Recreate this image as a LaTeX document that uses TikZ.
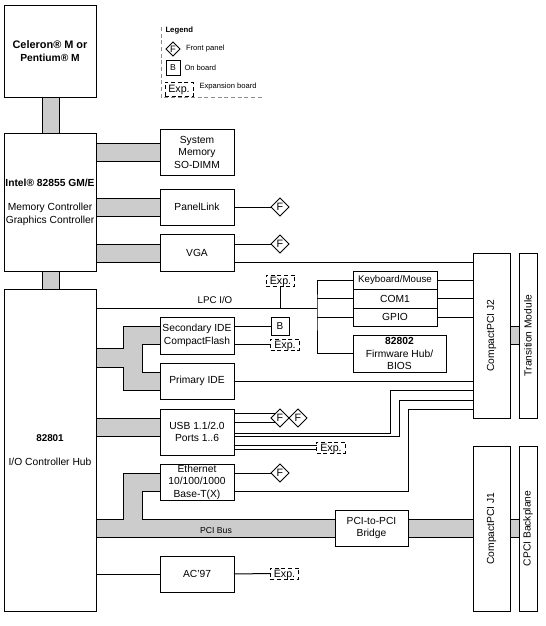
\documentclass[tikz,border=0pt]{standalone}
\usepackage{fontspec}
\setmainfont{Liberation Sans}
\usetikzlibrary{shapes.geometric}
\definecolor{BusGray}{RGB}{204,204,204}
\definecolor{LegendGray}{RGB}{140,140,140}
\tikzset{
  blockbox/.style={draw,fill=white,inner sep=0pt,outer sep=0pt,align=center,
    font=\fontsize{7.7}{9.4}\selectfont},
  frontpanel/.style={draw,fill=white,diamond,aspect=1,inner sep=0pt,outer sep=0pt,
    minimum width=13.5pt,minimum height=13.5pt,font=\fontsize{8}{9}\selectfont},
  onboard/.style={draw,fill=white,inner sep=0pt,outer sep=0pt,
    minimum width=13.5pt,minimum height=13.5pt,font=\fontsize{7.5}{9}\selectfont},
  expbox/.style={draw,densely dashed,fill=white,inner sep=0pt,outer sep=0pt,
    minimum width=21.5pt,minimum height=8.25pt,text height=5.6pt,text depth=0pt,
    font=\fontsize{8}{9}\selectfont},
  busbar/.style={draw,fill=BusGray},
  smalltext/.style={inner sep=0pt,font=\fontsize{5.7}{7}\selectfont},
  legendline/.style={draw=LegendGray,densely dashed}
}
\newcommand{\placebox}[6]{%
  \node[blockbox,minimum width={(#4-#2)*0.75pt},minimum height={(#5-#3)*0.75pt}]
    (#1) at ({(#2+#4)/2},{(#3+#5)/2}) {#6};}
\newcommand{\hbus}[4]{%
  \filldraw[busbar] (#1.east |- 0,#3) rectangle (#2.west |- 0,#4);}

\begin{document}
\begin{tikzpicture}[x=0.75pt,y=-0.75pt,line width=0.75pt]
  \useasboundingbox (0,0) rectangle (546,626);

  \placebox{cpu}{4}{5}{96}{97}{\fontsize{8.2}{9.6}\selectfont\textbf{Celeron® M or}\\\textbf{Pentium® M}}
  \placebox{gmch}{4}{133}{96}{271}{\fontsize{7.4}{9.6}\selectfont{\fontsize{7.7}{9.6}\selectfont\textbf{Intel® 82855 GM/E}}\\[9pt]Memory Controller\\Graphics Controller}
  \placebox{ich}{4}{289}{96}{611}{\fontsize{7.4}{9.6}\selectfont\textbf{82801}\\[9pt]I/O Controller Hub}

  \placebox{memory}{160}{129}{234}{175}{System\\Memory\\SO-DIMM}
  \placebox{panellink}{160}{189}{234}{225}{PanelLink}
  \placebox{vga}{160}{234}{234}{271}{VGA}
  \placebox{secide}{160}{317}{234}{354}{Secondary IDE\\CompactFlash}
  \placebox{primide}{160}{363}{234}{399}{Primary IDE}
  \placebox{usb}{160}{409}{234}{455}{USB 1.1/2.0\\Ports 1..6}
  \placebox{eth}{160}{464}{234}{500}{Ethernet\\10/100/1000\\Base-T(X)}
  \placebox{ac97}{160}{556}{234}{592}{AC'97}
  \placebox{bridge}{335}{510}{408}{546}{PCI-to-PCI\\Bridge}

  \placebox{kbd}{353}{271}{437}{289}{\fontsize{7.3}{9}\selectfont Keyboard/Mouse}
  \placebox{com1}{353}{289}{437}{308}{COM1}
  \placebox{gpio}{353}{308}{437}{326}{GPIO}
  \placebox{bios}{353}{335}{446}{372}{\textbf{82802}\\Firmware Hub/\\BIOS}

  \placebox{jtwo}{473}{253}{510}{418}{\rotatebox{90}{CompactPCI J2}}
  \placebox{transition}{519}{253}{537}{418}{\rotatebox{90}{Transition Module}}
  \placebox{jone}{473}{446}{510}{611}{\rotatebox{90}{CompactPCI J1}}
  \placebox{backplane}{519}{446}{537}{611}{\rotatebox{90}{CPCI Backplane}}

  \node[frontpanel] (panelF) at (280,207) {F};
  \node[frontpanel] (vgaF) at (280,244) {F};
  \node[frontpanel] (usbFb) at (298,418) {F};
  \node[frontpanel] (usbFa) at (280,418) {F};
  \node[frontpanel] (ethF) at (280,473) {F};
  \node[onboard] (secB) at (280,326) {B};
  \node[expbox] (lpcExp) at (280.5,280.5) {Exp.};
  \node[expbox] (secExp) at (285,344.5) {Exp.};
  \node[expbox] (usbExp) at (331,447.5) {Exp.};
  \node[expbox] (acExp) at (284.5,573.5) {Exp.};

  \filldraw[busbar] (cpu.south -| 42,0) rectangle (gmch.north -| 59,0);
  \filldraw[busbar] (gmch.south -| 42,0) rectangle (ich.north -| 59,0);
  \hbus{gmch}{memory}{143}{161}
  \hbus{gmch}{panellink}{198}{216}
  \hbus{gmch}{vga}{244}{262}
  \hbus{ich}{usb}{418}{436}
  \hbus{bridge}{jone}{519}{537}
  \hbus{jone}{backplane}{519}{537}
  \hbus{jtwo}{transition}{326}{344}
  \filldraw[busbar] (96,348) -- (123,348) -- (123,326) -- (160,326) -- (160,344)
    -- (142,344) -- (142,372) -- (160,372) -- (160,390) -- (123,390)
    -- (123,367) -- (96,367) -- cycle;
  \filldraw[busbar] (96,519) -- (123,519) -- (123,473) -- (160,473) -- (160,491)
    -- (142,491) -- (142,519) -- (335,519) -- (335,537) -- (96,537) -- cycle;

  \draw (panellink.east) -- (panelF.west);
  \draw (vga.east |- vgaF.west) -- (vgaF.west);
  \coordinate (vgaJ) at (234,262);
  \draw (vgaJ) -- (vgaJ -| jtwo.west);

  \coordinate (lpcJog) at (317,308);
  \draw (ich.east |- lpcJog) -- (lpcJog);
  \draw (lpcExp.south) -- (lpcExp.south |- lpcJog);
  \draw (kbd.west) -| (lpcJog) |- (bios.west);
  \draw (com1.west) -- (com1.west -| lpcJog);
  \draw (gpio.west) -- (gpio.west -| lpcJog);
  \draw (kbd.east) -- (kbd.east -| jtwo.west);
  \draw (com1.east) -- (com1.east -| jtwo.west);
  \draw (gpio.east) -- (gpio.east -| jtwo.west);

  \draw (secide.east |- secB.west) -- (secB.west);
  \draw (secide.east |- secExp.west) -- (secExp.west);
  \draw (primide.east) -- (primide.east -| jtwo.west);

  \draw (usb.east |- usbFa.north west) -- (usbFa.north west);
  \draw (usb.east |- usbFa.south west) -- (usbFa.south west);
  \coordinate (usbA) at (234,433);
  \coordinate (usbB) at (234,436);
  \coordinate (usbC) at (234,445);
  \coordinate (usbD) at (234,449);
  \coordinate (ethJ) at (234,491);
  \coordinate (jogA) at (390,390);
  \coordinate (jogB) at (399,400);
  \coordinate (jogC) at (408,409);
  \draw (usbA) -| (jogA) -- (jogA -| jtwo.west);
  \draw (usbB) -| (jogB) -- (jogB -| jtwo.west);
  \draw (ethJ) -| (jogC) -- (jogC -| jtwo.west);
  \draw (usbC) -- (usbC -| usbExp.west);
  \draw (usbD) -- (usbD -| usbExp.west);

  \draw (eth.east |- ethF.west) -- (ethF.west);
  \draw (ich.east |- ac97.west) -- (ac97.west);
  \draw (ac97.east) -- (acExp.west);

  \node[inner sep=0pt,font=\fontsize{7.3}{8}\selectfont] (lpcLabel) at (215,300) {LPC I/O};
  \node[inner sep=0pt,font=\fontsize{6.5}{8}\selectfont] (pciLabel) at (216,530.5) {PCI Bus};

  \path[legendline] (161,27) |- (262,97);
  \node[smalltext,anchor=west,font=\fontsize{5.8}{7}\selectfont\bfseries] (legendTitle) at (165,31) {Legend};
  \node[frontpanel,minimum width=10.5pt,minimum height=10.5pt,font=\fontsize{7}{8}\selectfont] (legendF) at (173,49) {F};
  \node[onboard,minimum width=10.5pt,minimum height=11.5pt,font=\fontsize{6.5}{8}\selectfont] (legendB) at (173,68) {B};
  \node[expbox,minimum width=21pt,minimum height=10.5pt] (legendExp) at (179,89) {Exp.};
  \node[smalltext,anchor=west] (legendFtext) at (185.5,48.5) {Front panel};
  \node[smalltext,anchor=west] (legendBtext) at (184,67.5) {On board};
  \node[smalltext,anchor=west] (legendEtext) at (199,87) {Expansion board};
\end{tikzpicture}
\end{document}
